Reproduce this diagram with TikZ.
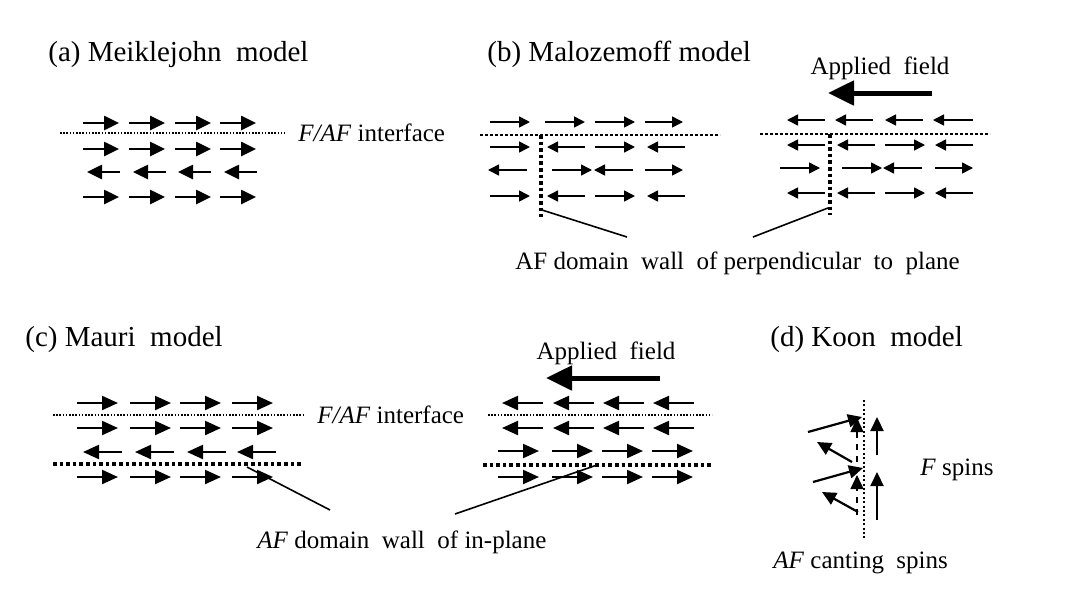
\documentclass[tikz,border=0pt]{standalone}
\usepackage{fontspec}
\setmainfont{Liberation Serif}
\usetikzlibrary{arrows.meta}

\begin{document}
\begin{tikzpicture}[x=0.5pt,y=-0.5pt,
  spinA/.style={line width=1.3pt,-{Triangle[length=7.5pt,width=7pt]}},
  spinB/.style={line width=0.8pt,-{Triangle[length=5.5pt,width=5.5pt]}},
  spinC/.style={line width=1.1pt,-{Triangle[length=8pt,width=7pt]}},
  spinD/.style={line width=1.1pt,-{Triangle[length=7pt,width=6.5pt]}},
  fieldarrow/.style={line width=2.5pt,-{Triangle[length=13pt,width=12pt]}},
  faceline/.style={line width=0.8pt,dash pattern=on 0.8pt off 0.8pt},
  wallline/.style={line width=1.8pt,dash pattern=on 1.8pt off 1.5pt},
  lbl/.style={font=\fontsize{12.5}{14}\selectfont,inner sep=0pt},
  ttl/.style={font=\fontsize{14.5}{16}\selectfont,inner sep=0pt}]
\useasboundingbox (0,0) rectangle (1087,606);
\fill[white] (0,0) rectangle (1087,606);

% (a)
\node[ttl,anchor=west] (ttlA) at (48,55) {(a) Meiklejohn\ \ model};
\draw[faceline] (60,133) -- (285,133);
\foreach \y in {123,149,197}
  \foreach \x in {83,129,175,220}
    \draw[spinA] (\x,\y) -- ++(36,0);
\foreach \x in {87,133,178,224}
  \draw[spinA] (\x+33,172) -- (\x,172);
\node[lbl,anchor=west] (faceA) at (298,133) {\textit{F/AF} interface};

% (b)
\node[ttl,anchor=west] (ttlB) at (487,54) {(b) Malozemoff model};
\node[lbl] (fieldB) at (880,68) {Applied\ \ field};
\draw[fieldarrow] (932,93) -- (828,93);
\draw[faceline,line width=1.3pt,dash pattern=on 1.3pt off 1.2pt] (480,135) -- (720,135);
\draw[faceline,line width=1.3pt,dash pattern=on 1.3pt off 1.2pt] (760,134) -- (990,134);
\foreach \a/\b/\y in {490/530/122,545/585/122,595/635/122,645/683/122,
    490/530/147,585/547/147,595/635/147,685/647/147,
    527/488/170,552/592/170,633/594/170,645/683/170,
    490/530/196,585/547/196,595/635/196,685/647/196,
    825/787/120,873/835/120,923/885/120,973/933/120,
    825/787/145,875/837/145,885/925/145,973/935/145,
    780/820/168,842/882/168,922/883/168,935/973/168,
    825/787/193,875/837/193,885/925/193,973/935/193}
  \draw[spinB] (\a,\y) -- (\b,\y);
\draw[wallline] (541,135) -- (541,217);
\draw[wallline] (830,134) -- (830,215);
\node[lbl,anchor=west] (wallB) at (515,263) {AF domain\ \ wall\ \ of perpendicular\ \ to\ \ plane};
\coordinate (wallB1) at (542,210);
\coordinate (wallB2) at (828,208);
\coordinate (tipB1) at (627,237);
\coordinate (tipB2) at (753,237);
\draw[line width=0.8pt] (wallB1) -- (tipB1);
\draw[line width=0.8pt] (wallB2) -- (tipB2);

% (c)
\node[ttl,anchor=west] (ttlC) at (25,340) {(c) Mauri\ \ model};
\node[lbl] (fieldC) at (606,353) {Applied\ \ field};
\draw[fieldarrow] (660,378) -- (546,378);
\draw[faceline] (53,415) -- (303,415);
\draw[wallline] (53,464) -- (302,464);
\draw[faceline] (488,415) -- (712,415);
\draw[wallline] (483,465) -- (712,465);
\foreach \y in {403,428,477}
  \foreach \x in {77,130,180,232}
    \draw[spinC] (\x,\y) -- ++(41,0);
\foreach \x in {83,135,187,237}
  \draw[spinC] (\x+39,452) -- (\x,452);
\foreach \y in {403,428}
  \foreach \x in {502,553,603,653}
    \draw[spinC] (\x+41,\y) -- (\x,\y);
\foreach \y in {451,477}
  \foreach \x in {498,552,602,652}
    \draw[spinC] (\x,\y) -- ++(41,0);
\node[lbl,anchor=west] (faceC) at (317,415) {\textit{F/AF} interface};
\node[lbl,anchor=west] (wallC) at (257,542) {\textit{AF} domain\ \ wall\ \ of in-plane};
\coordinate (wallC1) at (247,467);
\coordinate (wallC2) at (597,465);
\coordinate (tipC1) at (330,510);
\coordinate (tipC2) at (455,514);
\draw[line width=0.8pt] (wallC1) -- (tipC1);
\draw[line width=0.8pt] (wallC2) -- (tipC2);

% (d)
\node[ttl,anchor=west] (ttlD) at (770,340) {(d) Koon\ \ model};
\draw[faceline,line width=1pt,dash pattern=on 1pt off 1.2pt] (864,400) -- (864,538);
\draw[spinD] (877,455) -- (877,417);
\draw[spinD] (877,520) -- (877,472);
\draw[spinD,dashed,line width=0.6pt] (857,462) -- (857,418);
\draw[spinD,dashed,line width=0.6pt] (857,515) -- (857,475);
\draw[spinD] (808,432) -- (862,417);
\draw[spinD] (852,462) -- (817,442);
\draw[spinD] (813,482) -- (863,468);
\draw[spinD] (858,512) -- (822,492);
\node[lbl,anchor=west] (spinsF) at (920,470) {\textit{F} spins};
\node[lbl,anchor=west] (spinsAF) at (773,563) {\textit{AF} canting\ \ spins};
\end{tikzpicture}
\end{document}
